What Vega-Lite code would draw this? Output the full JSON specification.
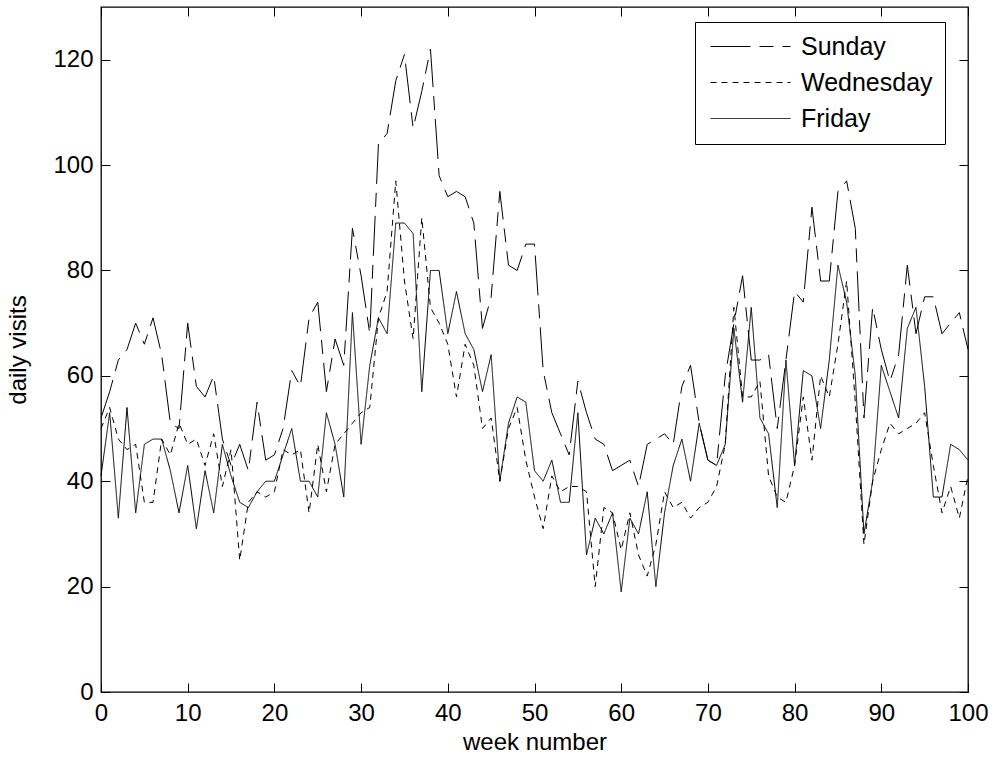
{
"$schema": "https://vega.github.io/schema/vega-lite/v6.json",
"width": 867, "height": 685,
"autosize": {"type": "none"},
"padding": {"left": 101, "top": 7, "right": 27, "bottom": 69},
"background": "white",
"config": {"font": "Liberation Sans", "view": {"stroke": "black", "strokeWidth": 1.3},
  "axis": {"domain": false, "grid": false, "ticks": true, "tickColor": "black", "tickSize": -9, "tickWidth": 1, "labelColor": "black", "labelFontSize": 24, "labelFont": "Liberation Sans", "titleFont": "Liberation Sans", "titleFontSize": 24, "titleFontWeight": "normal", "titleColor": "black"}},
"data": {"values": [
{"week":0,"Sunday":52,"Wednesday":50,"Friday":41},
{"week":1,"Sunday":57,"Wednesday":54,"Friday":53},
{"week":2,"Sunday":63,"Wednesday":48,"Friday":33},
{"week":3,"Sunday":65,"Wednesday":46,"Friday":54},
{"week":4,"Sunday":70,"Wednesday":47,"Friday":34},
{"week":5,"Sunday":66,"Wednesday":36,"Friday":47},
{"week":6,"Sunday":71,"Wednesday":36,"Friday":48},
{"week":7,"Sunday":64,"Wednesday":48,"Friday":48},
{"week":8,"Sunday":51,"Wednesday":45,"Friday":42},
{"week":9,"Sunday":50,"Wednesday":51,"Friday":34},
{"week":10,"Sunday":70,"Wednesday":47,"Friday":43},
{"week":11,"Sunday":58,"Wednesday":48,"Friday":31},
{"week":12,"Sunday":56,"Wednesday":43,"Friday":42},
{"week":13,"Sunday":60,"Wednesday":49,"Friday":34},
{"week":14,"Sunday":48,"Wednesday":39,"Friday":47},
{"week":15,"Sunday":43,"Wednesday":46,"Friday":41},
{"week":16,"Sunday":47,"Wednesday":25,"Friday":36},
{"week":17,"Sunday":42,"Wednesday":36,"Friday":35},
{"week":18,"Sunday":55,"Wednesday":38,"Friday":38},
{"week":19,"Sunday":44,"Wednesday":37,"Friday":40},
{"week":20,"Sunday":45,"Wednesday":38,"Friday":40},
{"week":21,"Sunday":50,"Wednesday":46,"Friday":45},
{"week":22,"Sunday":61,"Wednesday":45,"Friday":50},
{"week":23,"Sunday":58,"Wednesday":46,"Friday":40},
{"week":24,"Sunday":71,"Wednesday":34,"Friday":40},
{"week":25,"Sunday":74,"Wednesday":47,"Friday":37},
{"week":26,"Sunday":57,"Wednesday":38,"Friday":53},
{"week":27,"Sunday":67,"Wednesday":47,"Friday":47},
{"week":28,"Sunday":62,"Wednesday":49,"Friday":37},
{"week":29,"Sunday":88,"Wednesday":51,"Friday":72},
{"week":30,"Sunday":79,"Wednesday":53,"Friday":47},
{"week":31,"Sunday":68,"Wednesday":54,"Friday":62},
{"week":32,"Sunday":104,"Wednesday":71,"Friday":71},
{"week":33,"Sunday":106,"Wednesday":76,"Friday":68},
{"week":34,"Sunday":116,"Wednesday":97,"Friday":89},
{"week":35,"Sunday":121,"Wednesday":78,"Friday":89},
{"week":36,"Sunday":107,"Wednesday":67,"Friday":87},
{"week":37,"Sunday":114,"Wednesday":90,"Friday":57},
{"week":38,"Sunday":122,"Wednesday":73,"Friday":80},
{"week":39,"Sunday":98,"Wednesday":70,"Friday":80},
{"week":40,"Sunday":94,"Wednesday":66,"Friday":68},
{"week":41,"Sunday":95,"Wednesday":56,"Friday":76},
{"week":42,"Sunday":94,"Wednesday":66,"Friday":68},
{"week":43,"Sunday":89,"Wednesday":62,"Friday":65},
{"week":44,"Sunday":69,"Wednesday":50,"Friday":57},
{"week":45,"Sunday":75,"Wednesday":52,"Friday":64},
{"week":46,"Sunday":95,"Wednesday":40,"Friday":40},
{"week":47,"Sunday":81,"Wednesday":50,"Friday":51},
{"week":48,"Sunday":80,"Wednesday":54,"Friday":56},
{"week":49,"Sunday":85,"Wednesday":44,"Friday":55},
{"week":50,"Sunday":85,"Wednesday":37,"Friday":42},
{"week":51,"Sunday":61,"Wednesday":31,"Friday":40},
{"week":52,"Sunday":53,"Wednesday":41,"Friday":44},
{"week":53,"Sunday":49,"Wednesday":38,"Friday":36},
{"week":54,"Sunday":45,"Wednesday":39,"Friday":36},
{"week":55,"Sunday":59,"Wednesday":39,"Friday":53},
{"week":56,"Sunday":53,"Wednesday":38,"Friday":26},
{"week":57,"Sunday":48,"Wednesday":20,"Friday":33},
{"week":58,"Sunday":47,"Wednesday":35,"Friday":30},
{"week":59,"Sunday":42,"Wednesday":34,"Friday":34},
{"week":60,"Sunday":43,"Wednesday":27,"Friday":19},
{"week":61,"Sunday":44,"Wednesday":34,"Friday":33},
{"week":62,"Sunday":39,"Wednesday":26,"Friday":30},
{"week":63,"Sunday":47,"Wednesday":22,"Friday":38},
{"week":64,"Sunday":48,"Wednesday":28,"Friday":20},
{"week":65,"Sunday":49,"Wednesday":38,"Friday":34},
{"week":66,"Sunday":47,"Wednesday":35,"Friday":43},
{"week":67,"Sunday":58,"Wednesday":36,"Friday":48},
{"week":68,"Sunday":62,"Wednesday":33,"Friday":40},
{"week":69,"Sunday":51,"Wednesday":35,"Friday":51},
{"week":70,"Sunday":44,"Wednesday":36,"Friday":44},
{"week":71,"Sunday":43,"Wednesday":39,"Friday":43},
{"week":72,"Sunday":60,"Wednesday":47,"Friday":47},
{"week":73,"Sunday":70,"Wednesday":73,"Friday":69},
{"week":74,"Sunday":79,"Wednesday":56,"Friday":55},
{"week":75,"Sunday":63,"Wednesday":56,"Friday":73},
{"week":76,"Sunday":63,"Wednesday":59,"Friday":52},
{"week":77,"Sunday":64,"Wednesday":41,"Friday":49},
{"week":78,"Sunday":50,"Wednesday":37,"Friday":35},
{"week":79,"Sunday":63,"Wednesday":36,"Friday":63},
{"week":80,"Sunday":76,"Wednesday":43,"Friday":43},
{"week":81,"Sunday":74,"Wednesday":56,"Friday":61},
{"week":82,"Sunday":92,"Wednesday":44,"Friday":60},
{"week":83,"Sunday":78,"Wednesday":60,"Friday":50},
{"week":84,"Sunday":78,"Wednesday":56,"Friday":63},
{"week":85,"Sunday":95,"Wednesday":66,"Friday":81},
{"week":86,"Sunday":97,"Wednesday":78,"Friday":74},
{"week":87,"Sunday":88,"Wednesday":55,"Friday":60},
{"week":88,"Sunday":52,"Wednesday":28,"Friday":30},
{"week":89,"Sunday":73,"Wednesday":40,"Friday":40},
{"week":90,"Sunday":65,"Wednesday":46,"Friday":62},
{"week":91,"Sunday":59,"Wednesday":51,"Friday":57},
{"week":92,"Sunday":64,"Wednesday":49,"Friday":52},
{"week":93,"Sunday":81,"Wednesday":50,"Friday":69},
{"week":94,"Sunday":68,"Wednesday":51,"Friday":73},
{"week":95,"Sunday":75,"Wednesday":53,"Friday":58},
{"week":96,"Sunday":75,"Wednesday":43,"Friday":37},
{"week":97,"Sunday":68,"Wednesday":34,"Friday":37},
{"week":98,"Sunday":70,"Wednesday":39,"Friday":47},
{"week":99,"Sunday":72,"Wednesday":33,"Friday":46},
{"week":100,"Sunday":65,"Wednesday":41,"Friday":44}
]},
"transform": [{"fold": ["Sunday", "Wednesday", "Friday"], "as": ["day", "visits"]}],
"layer": [
 {"mark": {"type": "line", "color": "black", "strokeWidth": 1},
  "encoding": {
   "x": {"field": "week", "type": "quantitative", "scale": {"domain": [0, 100], "nice": false, "zero": false},
     "axis": {"orient": "bottom", "title": "week number", "values": [0,10,20,30,40,50,60,70,80,90,100], "labelPadding": 18, "titlePadding": 5, "labelFlush": false}},
   "y": {"field": "visits", "type": "quantitative", "scale": {"domain": [0, 130], "nice": false},
     "axis": {"orient": "left", "title": "daily visits", "values": [0,20,40,60,80,100,120], "labelPadding": 17, "titlePadding": 22, "labelFlush": false}},
   "strokeDash": {"field": "day", "type": "nominal",
     "scale": {"domain": ["Sunday", "Wednesday", "Friday"], "range": [[40, 9, 14, 9], [6, 5], [1, 0]]},
     "legend": {"orient": "none", "legendX": 594, "legendY": 15, "title": null, "strokeColor": "black", "fillColor": "white", "padding": 12,
       "symbolType": "M-4,0H4", "symbolSize": 400, "symbolStrokeWidth": 1, "symbolStrokeColor": "black", "symbolOffset": 31,
       "labelFontSize": 25, "labelFont": "Liberation Sans", "labelColor": "black", "labelLimit": 0, "labelOffset": 38, "rowPadding": 10}}
  }},
 {"mark": {"type": "line", "opacity": 0},
  "encoding": {
   "x": {"field": "week", "type": "quantitative", "axis": {"orient": "top", "title": null, "labels": false, "values": [0,10,20,30,40,50,60,70,80,90,100]}},
   "y": {"field": "visits", "type": "quantitative", "axis": {"orient": "right", "title": null, "labels": false, "values": [0,20,40,60,80,100,120]}},
   "detail": {"field": "day", "type": "nominal"}
  }}
],
"resolve": {"axis": {"x": "independent", "y": "independent"}}
}
